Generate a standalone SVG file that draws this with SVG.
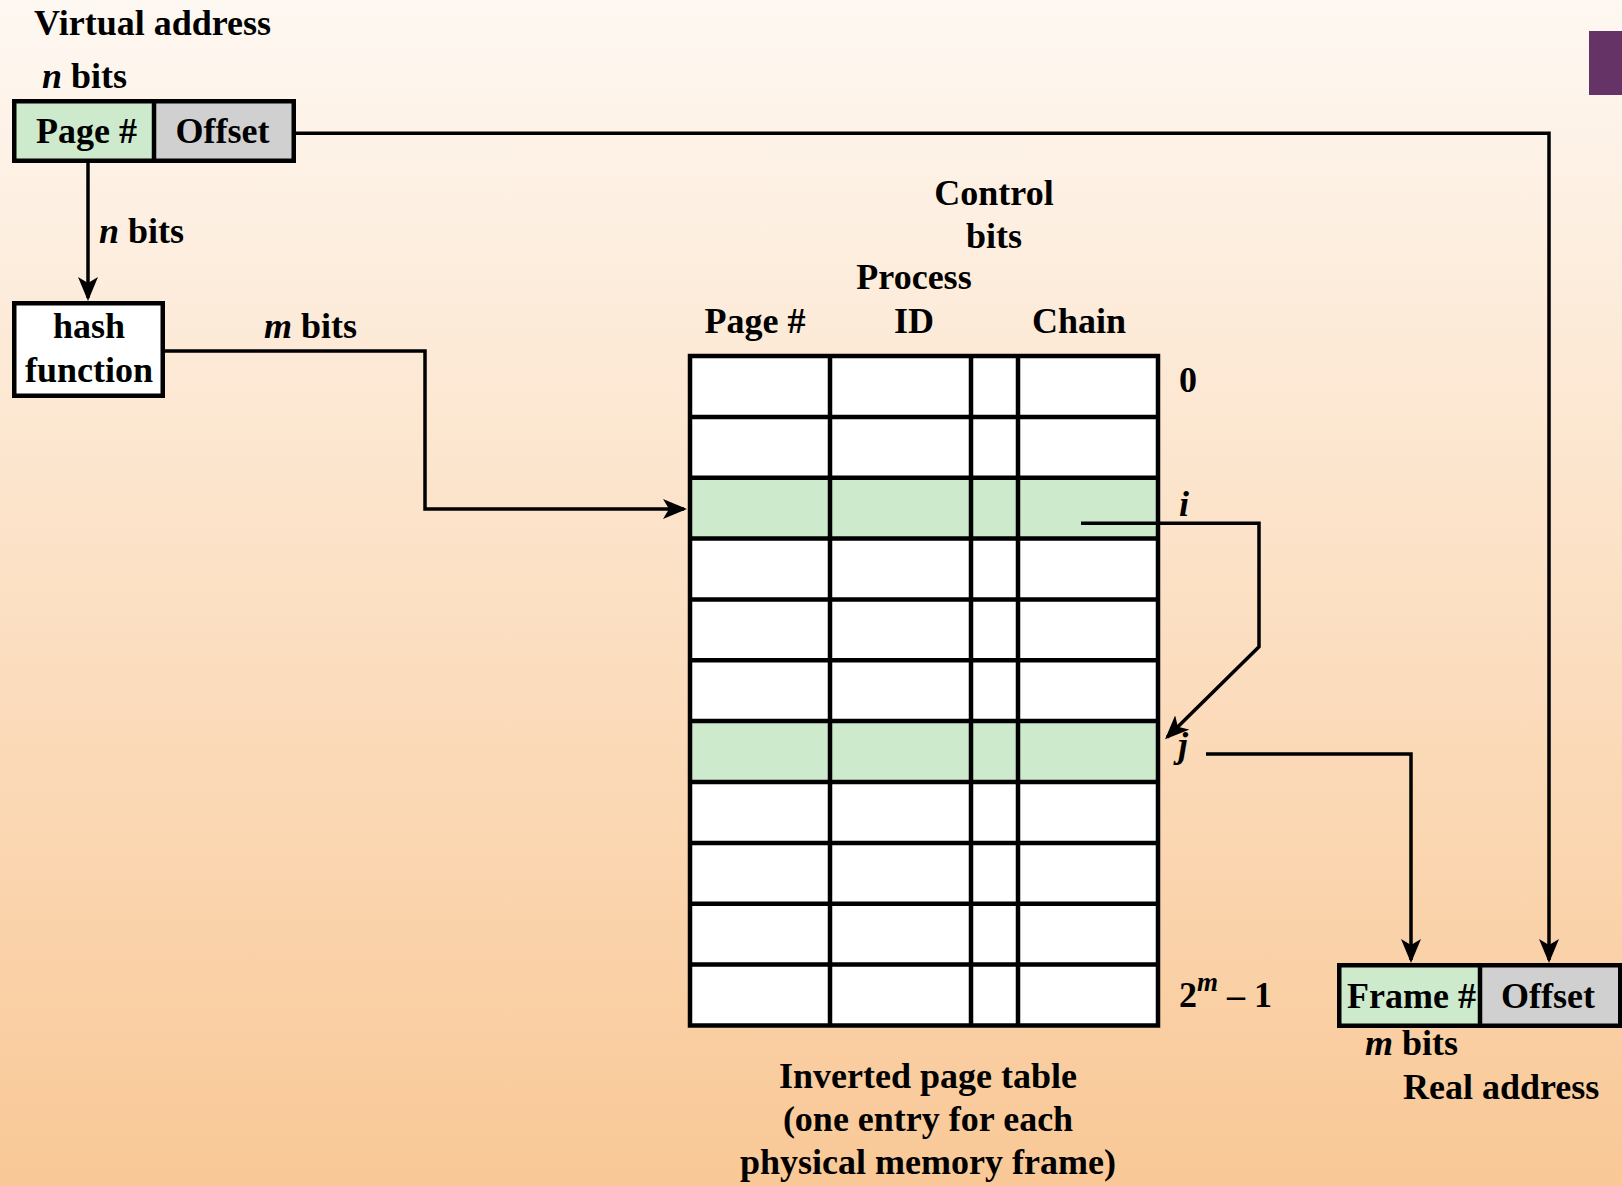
<svg xmlns="http://www.w3.org/2000/svg" width="1622" height="1186" viewBox="0 0 1622 1186">
<defs>
<linearGradient id="bg" x1="0" y1="0" x2="0" y2="1">
<stop offset="0" stop-color="#fef8f2"/>
<stop offset="1" stop-color="#f9c896"/>
</linearGradient>
<marker id="ah" viewBox="0 0 24 20" refX="21" refY="10" markerWidth="24" markerHeight="20" markerUnits="userSpaceOnUse" orient="auto">
<path d="M0,0 L24,10 L0,20 L6,10 z" fill="#000"/>
</marker>
<style>
text{font-family:"Liberation Serif","Times New Roman",serif;font-weight:bold;font-size:36px;fill:#000}
.it{font-style:italic}
.mid{text-anchor:middle}
.box{stroke:#000;stroke-width:4.5}
.green{fill:#cdeacd}
.gray{fill:#d0d0d0}
.white{fill:#fff}
.grid{stroke:#000;stroke-width:4.5;fill:none}
.conn{stroke:#000;stroke-width:3.5;fill:none;marker-end:url(#ah)}
</style>
</defs>
<rect x="0" y="0" width="1622" height="1186" fill="url(#bg)"/>
<rect x="1589" y="31" width="33" height="64" fill="#663366"/>

<g id="virtual-address">
<text x="34" y="35">Virtual address</text>
<text x="42" y="88"><tspan class="it">n</tspan> bits</text>
<rect class="green" x="14" y="101" width="140" height="60"/>
<rect class="gray" x="154" y="101" width="140" height="60"/>
<rect class="box" x="14.25" y="101.25" width="279.5" height="59.5" fill="none"/>
<line class="box" x1="154" y1="101" x2="154" y2="161"/>
<text class="mid" x="86.5" y="143">Page #</text>
<text class="mid" x="222.5" y="143">Offset</text>
</g>

<g id="hash-function">
<rect class="box white" x="14.25" y="303.25" width="148.5" height="92.5"/>
<text class="mid" x="89" y="338">hash</text>
<text class="mid" x="89" y="382">function</text>
</g>

<g id="page-table">
<rect class="white" x="690" y="356" width="468" height="669.5"/>
<rect class="green" x="690" y="477.7" width="468" height="60.9"/>
<rect class="green" x="690" y="721.1" width="468" height="60.9"/>
<path class="grid" d="M690,416.9H1158M690,477.7H1158M690,538.6H1158M690,599.4H1158M690,660.3H1158M690,721.1H1158M690,782H1158M690,842.9H1158M690,903.7H1158M690,964.6H1158M830,356V1025.5M971,356V1025.5M1018,356V1025.5"/>
<rect class="grid" x="690" y="356" width="468" height="669.5"/>
<text class="mid" x="994" y="205">Control</text>
<text class="mid" x="994" y="248">bits</text>
<text class="mid" x="914" y="289">Process</text>
<text class="mid" x="914" y="333">ID</text>
<text class="mid" x="755" y="333">Page #</text>
<text class="mid" x="1079" y="333">Chain</text>
<text x="1179" y="392">0</text>
<text class="it" x="1179" y="516">i</text>
<text class="it" x="1178" y="757">j</text>
<text x="1179" y="1007">2<tspan class="it" font-size="27" dy="-16">m</tspan><tspan dy="16"> – 1</tspan></text>
<text class="mid" x="928" y="1088">Inverted page table</text>
<text class="mid" x="928" y="1131">(one entry for each</text>
<text class="mid" x="928" y="1174">physical memory frame)</text>
</g>

<g id="real-address">
<rect class="green" x="1339" y="965" width="141" height="61"/>
<rect class="gray" x="1480" y="965" width="140" height="61"/>
<rect class="box" x="1339.25" y="965.25" width="281" height="60.5" fill="none"/>
<line class="box" x1="1480" y1="965" x2="1480" y2="1026"/>
<text class="mid" x="1411.5" y="1008">Frame #</text>
<text class="mid" x="1548" y="1008">Offset</text>
<text x="1365" y="1055"><tspan class="it">m</tspan> bits</text>
<text x="1403" y="1099">Real address</text>
</g>

<g id="connectors">
<path class="conn" d="M88,163 V298"/>
<text x="99" y="243"><tspan class="it">n</tspan> bits</text>
<path class="conn" d="M163,351 H425 V509 H684"/>
<text x="264" y="338"><tspan class="it">m</tspan> bits</text>
<path class="conn" d="M296,133.3 H1549 V960"/>
<path class="conn" d="M1081,523.3 H1259 V646.7 L1167.2,737.2"/>
<path class="conn" d="M1206,754 H1411 V960"/>
</g>
</svg>
